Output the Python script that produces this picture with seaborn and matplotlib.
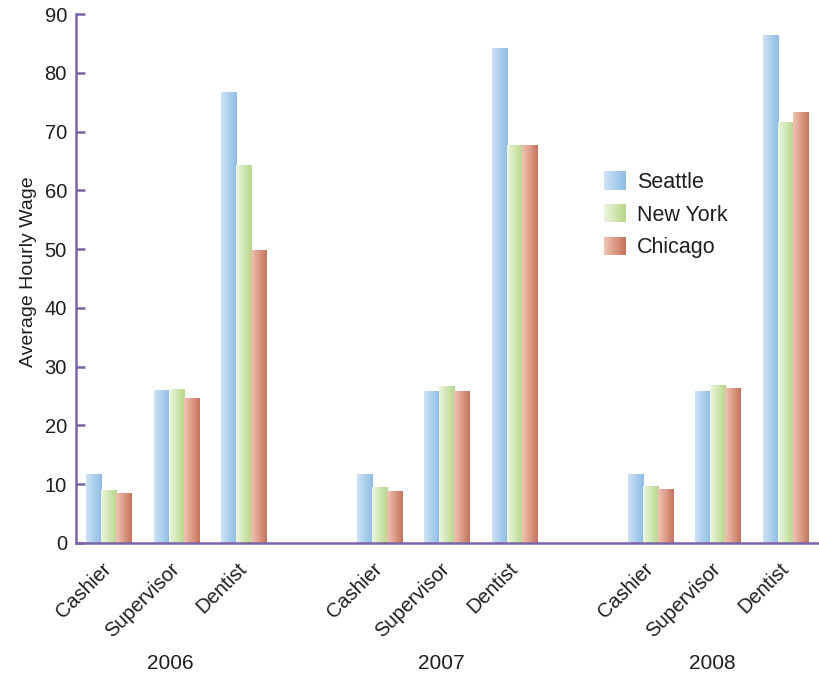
import numpy as np
import pandas as pd
import matplotlib
matplotlib.use("Agg")
import matplotlib.pyplot as plt
import matplotlib.transforms as mtransforms
from matplotlib.colors import LinearSegmentedColormap
from matplotlib.legend_handler import HandlerBase
from matplotlib.patches import Rectangle
import seaborn as sns

# ---- data ----
years = ["2006", "2007", "2008"]
jobs = ["Cashier", "Supervisor", "Dentist"]
cities = ["Seattle", "New York", "Chicago"]
slots = [0, 1, 2, 4, 5, 6, 8, 9, 10]
year_slots = [1, 5, 9]
job_labels = jobs * 3
seattle = [11.7, 25.9, 76.6, 11.7, 25.7, 84.2, 11.7, 25.8, 86.4]
new_york = [9.0, 26.2, 64.3, 9.4, 26.7, 67.7, 9.6, 26.8, 71.6]
chicago = [8.5, 24.5, 49.8, 8.7, 25.7, 67.7, 9.1, 26.3, 73.3]

grad_colors = {
    "Seattle": ["#cfe2f4", "#8dbce6"],
    "New York": ["#edf5e2", "#b6d787"],
    "Chicago": ["#eec4b4", "#c7735a"],
}
mid_colors = {"Seattle": "#aed0ee", "New York": "#d2e6b5", "Chicago": "#dc9c86"}
cmaps = {c: LinearSegmentedColormap.from_list(c, grad_colors[c]) for c in cities}

df = pd.DataFrame({
    "slot": slots * 3,
    "city": ["Seattle"] * 9 + ["New York"] * 9 + ["Chicago"] * 9,
    "wage": seattle + new_york + chicago,
})

sns.set_style("white")
plt.rcParams["font.family"] = ["Liberation Sans", "DejaVu Sans"]

purple = "#7b64a9"
txt = "#1e1e1e"
fig = plt.figure(figsize=(8.19, 6.75), dpi=100)
ax = fig.add_axes([76 / 819, (675 - 543) / 675, 1 - 76 / 819, (543 - 14) / 675])

sns.barplot(data=df, x="slot", y="wage", hue="city", hue_order=cities,
            native_scale=True, width=0.665, dodge=True, palette=mid_colors,
            saturation=1, errorbar=None, legend=False, ax=ax)

# gradient fill for each bar
for cont, city in zip(ax.containers, cities):
    for p in cont.patches:
        x0, y0 = p.get_x(), p.get_y()
        w, h = p.get_width(), p.get_height()
        ax.imshow(np.linspace(0, 1, 64).reshape(1, -1), cmap=cmaps[city],
                  extent=[x0, x0 + w, y0, y0 + h], aspect="auto",
                  interpolation="bilinear", zorder=p.get_zorder() + 0.1)
        p.set_facecolor("none")
        p.set_edgecolor("none")

ax.set_xlim(-0.48, 10.495)
ax.set_ylim(0, 90)
ax.set_yticks(np.arange(0, 91, 10))
ax.set_xticks(slots)
ax.set_xticklabels(job_labels, rotation=45, ha="right", va="center",
                   rotation_mode="anchor", fontsize=14.5, color=txt)
ax.tick_params(axis="x", length=0, pad=16.5)
ax.tick_params(axis="y", direction="in", length=6.3, width=1.8, color=purple,
               pad=6.5, labelsize=14.5, labelcolor=txt, left=True)
ax.set_xlabel("")
ax.set_ylabel("Average Hourly Wage", fontsize=14, color=txt)
ax.yaxis.set_label_coords(-0.053, 0.512)

for s in ["top", "right"]:
    ax.spines[s].set_visible(False)
for s in ["left", "bottom"]:
    ax.spines[s].set_color(purple)
    ax.spines[s].set_linewidth(1.8)

trans = mtransforms.blended_transform_factory(ax.transData, ax.transAxes)
for ys, yr in zip(year_slots, years):
    ax.text(ys - 0.08, -0.228, yr, transform=trans, ha="center", va="center",
            fontsize=15, color=txt)


class GradProxy:
    def __init__(self, cmap):
        self.cmap = cmap


class GradHandler(HandlerBase):
    def create_artists(self, legend, orig_handle, xdescent, ydescent, width,
                       height, fontsize, trans):
        n = 40
        arts = []
        for i in range(n):
            r = Rectangle((-xdescent + width * i / n, -ydescent), width / n * 1.1,
                          height, facecolor=orig_handle.cmap(i / (n - 1)),
                          edgecolor="none", lw=0, transform=trans)
            arts.append(r)
        return arts


proxies = [GradProxy(cmaps[c]) for c in cities]
leg = ax.legend(proxies, cities, handler_map={GradProxy: GradHandler()},
                loc="upper left", bbox_to_anchor=(604 / 819, 1 - 171 / 675),
                bbox_transform=fig.transFigure, frameon=False, fontsize=15.5,
                handlelength=1.0, handleheight=0.95, labelspacing=0.52,
                handletextpad=0.55, borderpad=0, borderaxespad=0)
for t in leg.get_texts():
    t.set_color(txt)

fig.savefig("out.png", dpi=100, facecolor="white")
